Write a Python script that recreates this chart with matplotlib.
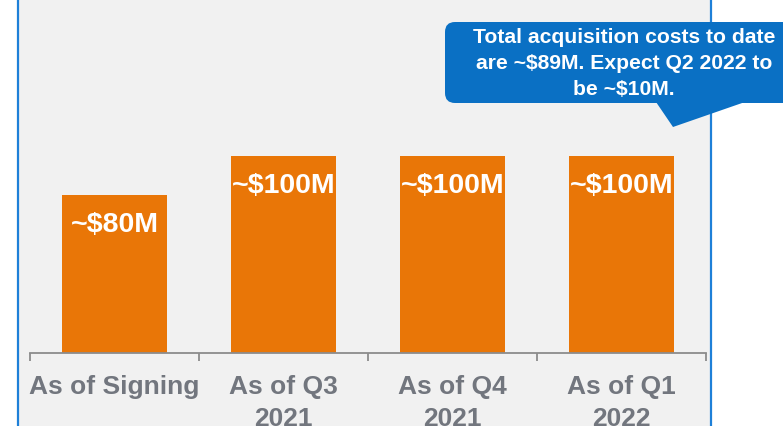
import matplotlib
matplotlib.use("Agg")
import matplotlib.pyplot as plt
from matplotlib.patches import Rectangle, FancyBboxPatch, Polygon
from matplotlib.lines import Line2D

categories = ["As of Signing", "As of Q3\n2021", "As of Q4\n2021", "As of Q1\n2022"]
values = [80, 100, 100, 100]
value_labels = ["~$80M", "~$100M", "~$100M", "~$100M"]
callout_text = "Total acquisition costs to date\nare ~$89M. Expect Q2 2022 to\nbe ~$10M."

ORANGE = "#E97607"
BLUE = "#0A70C4"
BORDER = "#1E80D8"
GRAY_BG = "#F1F1F1"
LABEL_GRAY = "#72767E"
AXIS_GRAY = "#8C8C8C"

plt.rcParams['font.family'] = ['Liberation Sans', 'DejaVu Sans']

W, H = 783, 426
fig = plt.figure(figsize=(W / 100, H / 100), dpi=100)
fig.patch.set_facecolor("white")

# gray panel background
fig.patches.append(Rectangle((18 / W, 0), (711 - 18) / W, 1, transform=fig.transFigure,
                             facecolor=GRAY_BG, edgecolor="none", zorder=-5))

# main axes
left, right = 30 / W, 706 / W
bottom = (H - 353) / H
ax = fig.add_axes([left, bottom, right - left, 1 - bottom])
ax.set_facecolor("none")
x = list(range(len(categories)))
ax.bar(x, values, width=0.62, color=ORANGE, zorder=2)
ax.set_xlim(-0.5, len(categories) - 0.5)
ax.set_ylim(0, 353 / 1.97)
for s in ["top", "left", "right"]:
    ax.spines[s].set_visible(False)
ax.spines["bottom"].set_color(AXIS_GRAY)
ax.spines["bottom"].set_linewidth(1.3)
ax.set_yticks([])
ax.set_xticks(x)
ax.set_xticklabels(categories, fontsize=19, fontweight="bold", color=LABEL_GRAY, linespacing=1.42)
ax.tick_params(axis="x", which="major", length=0, pad=15.5)
ax.set_xticks([i - 0.5 for i in range(len(categories) + 1)], minor=True)
ax.tick_params(axis="x", which="minor", length=6, width=1.3, color=AXIS_GRAY, direction="out")

for xi, v, lab in zip(x, values, value_labels):
    ax.annotate(lab, (xi, v), xytext=(0, -26.5), textcoords="offset points",
                ha="center", va="baseline", fontsize=20.5, fontweight="bold", color="white")

# overlay in pixel coordinates for borders and callout
ov = fig.add_axes([0, 0, 1, 1], zorder=5)
ov.set_xlim(0, W)
ov.set_ylim(H, 0)
ov.axis("off")
ov.add_line(Line2D([18, 18], [0, H], color=BORDER, lw=1.6))
ov.add_line(Line2D([711, 711], [0, H], color=BORDER, lw=1.6))
ov.add_patch(FancyBboxPatch((445, 22), 360, 81, boxstyle="round,pad=0,rounding_size=10",
                            facecolor=BLUE, edgecolor="none", zorder=3))
ov.add_patch(Polygon([(656, 102), (673, 127), (745, 102)], closed=True,
                     facecolor=BLUE, edgecolor="none", zorder=3))
ov.text(624, 63.5, callout_text, ha="center", va="center", multialignment="center",
        fontsize=15.2, fontweight="bold", color="white", linespacing=1.45, zorder=4)

fig.savefig("out.png", dpi=100)
